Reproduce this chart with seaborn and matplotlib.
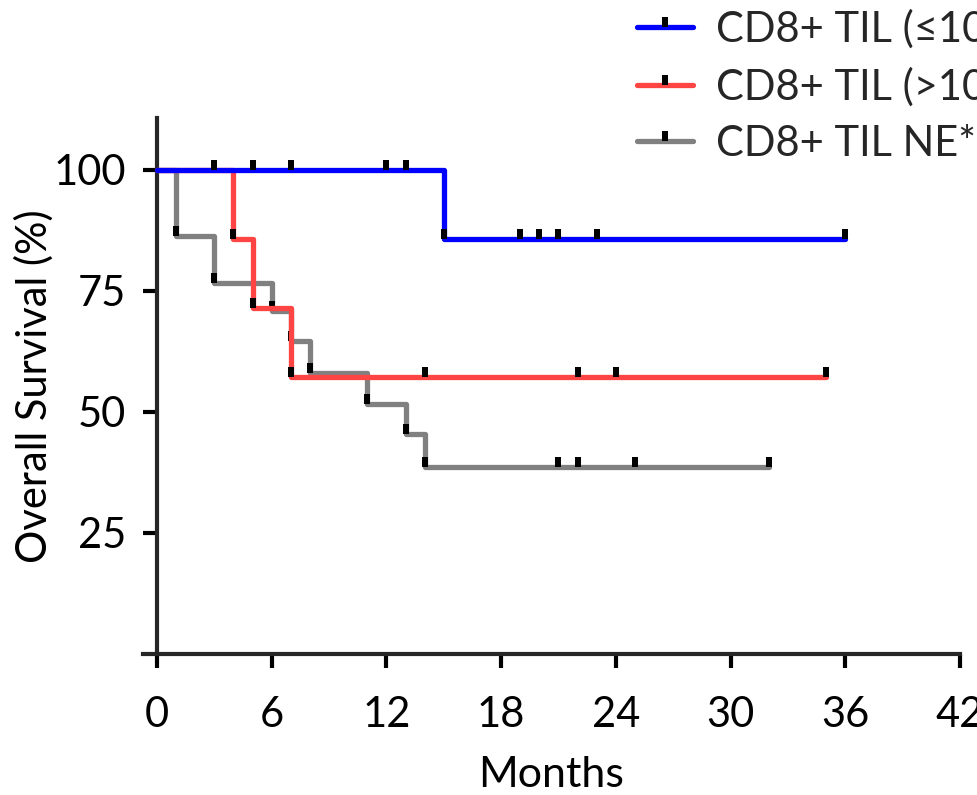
import numpy as np
import matplotlib
matplotlib.use("Agg")
import matplotlib.pyplot as plt
from matplotlib.path import Path
from matplotlib.lines import Line2D
from matplotlib import font_manager
import seaborn as sns

# Kaplan-Meier step curves: change times (months) and survival (%) after each step
low_t = [0, 15, 36]
low_s = [100, 85.7, 85.7]
low_cens = [3, 5, 7, 12, 13, 15, 19, 20, 21, 23, 36]

high_t = [0, 4, 5, 7, 35]
high_s = [100, 85.7, 71.4, 57.1, 57.1]
high_cens = [4, 5, 7, 14, 22, 24, 35]

ne_t = [0, 1, 3, 6, 7, 8, 11, 13, 14, 32]
ne_s = [100, 86.4, 76.6, 70.9, 64.7, 58.1, 51.6, 45.4, 38.7, 38.7]
ne_cens = [1, 3, 6, 7, 8, 11, 13, 14, 21, 22, 25, 32]

labels = ["CD8+ TIL (\u226410%)", "CD8+ TIL (>10%)", "CD8+ TIL NE*"]
colors = ["#0000FF", "#FF4444", "#808080"]

x_ticks = [0, 6, 12, 18, 24, 30, 36, 42]
y_ticks = [25, 50, 75, 100]

sns.set_theme(style="ticks")
plt.rcParams["font.family"] = ["Lato", "DejaVu Sans"]

installed = {f.name for f in font_manager.fontManager.ttflist}
legend_family = "Liberation Sans Narrow" if "Liberation Sans Narrow" in installed else "Lato"
print("legend font:", legend_family)

# censor tick: small bar sitting on top of the curve
tick_path = Path([(-0.3, 0), (0.3, 0), (0.3, 1), (-0.3, 1), (-0.3, 0)],
                 [Path.MOVETO, Path.LINETO, Path.LINETO, Path.LINETO, Path.CLOSEPOLY])


def step_value(times, surv, t):
    idx = np.searchsorted(times, t, side="right") - 1
    return surv[idx]


fig = plt.figure(figsize=(9.78, 7.95), dpi=100)
ax = fig.add_axes([0.1462, 0.1774, 0.8354, 0.6742])

series = [
    (ne_t, ne_s, ne_cens, colors[2]),
    (high_t, high_s, high_cens, colors[1]),
    (low_t, low_s, low_cens, colors[0]),
]
z = 3
for t, s, cens, col in series:
    sns.lineplot(x=t, y=s, ax=ax, drawstyle="steps-post", color=col,
                 linewidth=3.8, estimator=None, sort=False, zorder=z)
    cy = [step_value(t, s, c) for c in cens]
    sns.scatterplot(x=cens, y=cy, ax=ax, marker=tick_path, s=207,
                    color="black", linewidth=0, zorder=z + 0.5)
    z += 1

ax.set_xlim(-0.73, 42)
ax.set_ylim(0, 110.7)
ax.set_xticks(x_ticks)
ax.set_yticks(y_ticks)
ax.spines["left"].set_position(("data", 0))
ax.spines["top"].set_visible(False)
ax.spines["right"].set_visible(False)
for sp in ("left", "bottom"):
    ax.spines[sp].set_linewidth(3.0)
ax.tick_params(axis="both", width=3.0, length=10, labelsize=30,
               color="black", labelcolor="black")
ax.tick_params(axis="x", pad=20)
ax.tick_params(axis="y", pad=12)
ax.set_xlabel("Months", fontsize=31, labelpad=16, color="black")
ax.set_ylabel("Overall Survival (%)", fontsize=30, labelpad=0, color="black")

handles = [Line2D([], [], color=c, linewidth=3.8, marker=tick_path,
                  markersize=14.4, markerfacecolor="black",
                  markeredgewidth=0) for c in colors]
fig.legend(handles, labels, loc="upper left", bbox_to_anchor=(0.634, 1.009),
           frameon=False, handlelength=1.35, handletextpad=0.55,
           labelspacing=0.44, borderaxespad=0,
           prop={"family": legend_family, "size": 30})

fig.savefig("out.png", dpi=100)
